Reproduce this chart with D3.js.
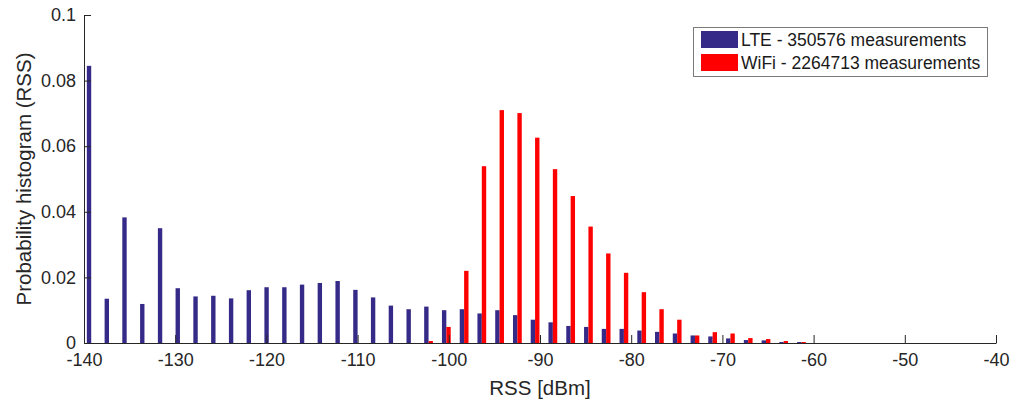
<!DOCTYPE html>
<html>
<head>
<meta charset="utf-8">
<script src="https://cdn.jsdelivr.net/npm/d3@7"></script>
<style>
  html, body { margin: 0; padding: 0; background: #fff; }
  svg { display: block; font-family: "Liberation Sans", Arial, sans-serif; }
</style>
</head>
<body>
<svg id="chart" width="1015" height="402"></svg>
<script>
// ── Data ─────────────────────────────────────────────────────────────────────
// histogram bin centres (dBm)
const binCenters = [
  -139.21, -137.26, -135.32, -133.37, -131.42, -129.48, -127.53, -125.58,
  -123.63, -121.69, -119.74, -117.79, -115.85, -113.90, -111.95, -110.00,
  -108.06, -106.11, -104.16, -102.22, -100.27, -98.32, -96.38, -94.43,
  -92.48, -90.54, -88.59, -86.64, -84.69, -82.75, -80.80, -78.85,
  -76.91, -74.96, -73.01, -71.07, -69.12, -67.17, -65.22, -63.28, -61.33
];

const lteValues = [
  0.0845, 0.0135, 0.0383, 0.0119, 0.0350, 0.0167, 0.0142, 0.0144,
  0.0136, 0.0161, 0.0170, 0.0170, 0.0178, 0.0183, 0.0189, 0.0162,
  0.0139, 0.0114, 0.0103, 0.0111, 0.0100, 0.0103, 0.0090, 0.0100,
  0.0085, 0.0071, 0.0063, 0.0052, 0.0049, 0.0043, 0.0043, 0.0038,
  0.0034, 0.0029, 0.0023, 0.0020, 0.0014, 0.0009, 0.0008, 0.0003, 0.0003
];

const wifiValues = [
  0, 0, 0, 0, 0, 0, 0, 0,
  0, 0, 0, 0, 0, 0, 0, 0,
  0, 0, 0, 0.0006, 0.0049, 0.0220, 0.0539, 0.0710,
  0.0701, 0.0626, 0.0530, 0.0448, 0.0355, 0.0273, 0.0214, 0.0155,
  0.0103, 0.0071, 0.0023, 0.0033, 0.0029, 0.0015, 0.0012, 0.0006, 0.0003
];

const seriesNames = ['LTE - 350576 measurements', 'WiFi - 2264713 measurements'];
const seriesColors = ['#352a87', '#ff0000'];

const xTicks = [-140, -130, -120, -110, -100, -90, -80, -70, -60, -50, -40];
const yTicks = [0, 0.02, 0.04, 0.06, 0.08, 0.1];

// ── Layout ───────────────────────────────────────────────────────────────────
const margin = { top: 15, right: 19, bottom: 59, left: 84 };
const W = 1015, H = 402;
const innerW = W - margin.left - margin.right;
const innerH = H - margin.top - margin.bottom;
const axisColor = '#262626';
const tickFont = '18px';
const barW = 0.48;   // dBm, width of each bar in a group

const svg = d3.select('#chart');
const g = svg.append('g').attr('transform', `translate(${margin.left},${margin.top})`);

const x = d3.scaleLinear().domain([-140, -40]).range([0, innerW]);
const y = d3.scaleLinear().domain([0, 0.1]).range([innerH, 0]);

// ── Bars ─────────────────────────────────────────────────────────────────────
const series = [lteValues, wifiValues];
series.forEach((vals, si) => {
  g.append('g')
    .selectAll('rect')
    .data(binCenters.map((c, i) => ({ c, v: vals[i] })).filter(d => d.v > 0))
    .join('rect')
    .attr('x', d => si === 0 ? x(d.c - barW) : x(d.c))
    .attr('width', x(-140 + barW) - x(-140))
    .attr('y', d => y(d.v))
    .attr('height', d => y(0) - y(d.v))
    .attr('fill', seriesColors[si]);
});

// ── Axes ─────────────────────────────────────────────────────────────────────
// plain hyphen for negatives, like the original
const xAxis = g.append('g')
  .attr('transform', `translate(0,${innerH})`)
  .call(d3.axisBottom(x).tickValues(xTicks).tickSizeInner(-8).tickSizeOuter(0).tickPadding(10)
    .tickFormat(d => String(d)));

const yAxis = g.append('g')
  .call(d3.axisLeft(y).tickValues(yTicks).tickSizeInner(-7).tickSizeOuter(0).tickPadding(8)
    .tickFormat(d => String(d)));

[xAxis, yAxis].forEach(a => {
  a.select('.domain').attr('stroke', axisColor).attr('stroke-width', 1);
  a.selectAll('.tick line').attr('stroke', axisColor);
  a.selectAll('.tick text')
    .attr('fill', axisColor)
    .attr('font-size', tickFont)
    .attr('font-family', '"Liberation Sans", Arial, sans-serif');
});

// axis titles
svg.append('text')
  .attr('x', margin.left + innerW / 2)
  .attr('y', 395)
  .attr('text-anchor', 'middle')
  .attr('font-size', '20.5px')
  .attr('fill', axisColor)
  .text('RSS [dBm]');

svg.append('text')
  .attr('transform', `translate(31,${margin.top + innerH / 2}) rotate(-90)`)
  .attr('text-anchor', 'middle')
  .attr('font-size', '20.5px')
  .attr('fill', axisColor)
  .text('Probability histogram (RSS)');

// ── Legend ───────────────────────────────────────────────────────────────────
const legend = svg.append('g').attr('transform', 'translate(693.5,27.5)');
legend.append('rect')
  .attr('width', 294)
  .attr('height', 49)
  .attr('fill', '#fff')
  .attr('stroke', '#7a7a7a')
  .attr('stroke-width', 1);

seriesNames.forEach((name, i) => {
  const row = legend.append('g').attr('transform', `translate(0,${4 + i * 23})`);
  row.append('rect')
    .attr('x', 7.5).attr('y', -0.5)
    .attr('width', 37).attr('height', 17)
    .attr('fill', seriesColors[i]);
  row.append('text')
    .attr('x', 47.5)
    .attr('y', 8)
    .attr('dominant-baseline', 'central')
    .attr('font-size', '17.5px')
    .attr('fill', '#1a1a1a')
    .text(name);
});
</script>
</body>
</html>
